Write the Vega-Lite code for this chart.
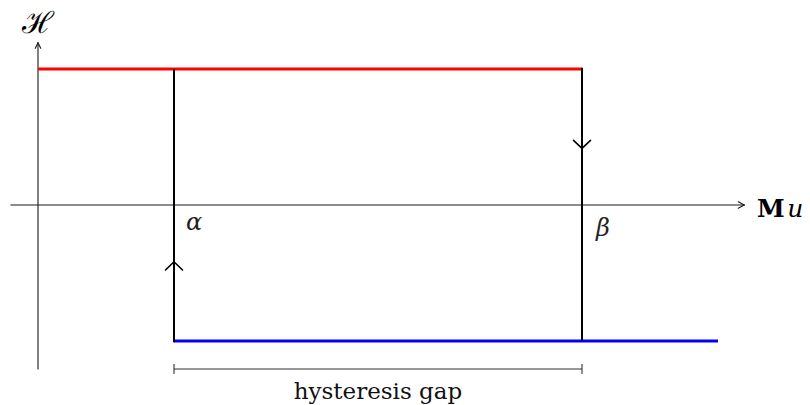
{
  "$schema": "https://vega.github.io/schema/vega-lite/v6.json",
  "width": 810,
  "height": 405,
  "autosize": {"type": "fit", "contains": "padding"},
  "padding": 0,
  "background": "white",
  "config": {"view": {"stroke": null}},
  "encoding": {
    "x": {"field": "x", "type": "quantitative", "scale": {"domain": [-0.2794, 5.6765], "nice": false, "zero": false}, "axis": null},
    "y": {"field": "y", "type": "quantitative", "scale": {"domain": [-1.4706, 1.5074], "nice": false, "zero": false}, "axis": null}
  },
  "layer": [
    {
      "data": {"values": [
        {"part": "x axis", "x": -0.2, "y": 0, "x2": 5.193, "y2": 0},
        {"part": "x arrow", "x": 5.149, "y": 0.024, "x2": 5.193, "y2": 0},
        {"part": "x arrow", "x": 5.149, "y": -0.024, "x2": 5.193, "y2": 0},
        {"part": "y axis", "x": 0, "y": -1.206, "x2": 0, "y2": 1.193},
        {"part": "y arrow", "x": -0.02, "y": 1.152, "x2": 0, "y2": 1.193},
        {"part": "y arrow", "x": 0.02, "y": 1.152, "x2": 0, "y2": 1.193}
      ]},
      "mark": {"type": "rule", "color": "#1a1a1a", "strokeWidth": 1.1, "strokeCap": "round"},
      "encoding": {"x2": {"field": "x2"}, "y2": {"field": "y2"}}
    },
    {
      "data": {"values": [
        {"part": "red", "x": 0, "y": 1, "x2": 4, "y2": 1}
      ]},
      "mark": {"type": "rule", "color": "#ff0000", "strokeWidth": 3},
      "encoding": {"x2": {"field": "x2"}, "y2": {"field": "y2"}}
    },
    {
      "data": {"values": [
        {"part": "blue", "x": 1, "y": -1, "x2": 5, "y2": -1}
      ]},
      "mark": {"type": "rule", "color": "#0000ff", "strokeWidth": 3},
      "encoding": {"x2": {"field": "x2"}, "y2": {"field": "y2"}}
    },
    {
      "data": {"values": [
        {"part": "alpha jump", "x": 1, "y": -1.01, "x2": 1, "y2": 1},
        {"part": "beta jump", "x": 4, "y": -1, "x2": 4, "y2": 1.01}
      ]},
      "mark": {"type": "rule", "color": "#000000", "strokeWidth": 2},
      "encoding": {"x2": {"field": "x2"}, "y2": {"field": "y2"}}
    },
    {
      "data": {"values": [
        {"part": "up arrow", "x": 0.9375, "y": -0.478, "x2": 1, "y2": -0.417},
        {"part": "up arrow", "x": 1.0625, "y": -0.478, "x2": 1, "y2": -0.417},
        {"part": "down arrow", "x": 3.9375, "y": 0.475, "x2": 4, "y2": 0.417},
        {"part": "down arrow", "x": 4.0625, "y": 0.475, "x2": 4, "y2": 0.417}
      ]},
      "mark": {"type": "rule", "color": "#000000", "strokeWidth": 1.6, "strokeCap": "round"},
      "encoding": {"x2": {"field": "x2"}, "y2": {"field": "y2"}}
    },
    {
      "data": {"values": [
        {"part": "gap", "x": 1, "y": -1.206, "x2": 4, "y2": -1.206},
        {"part": "gap tick", "x": 1, "y": -1.243, "x2": 1, "y2": -1.169},
        {"part": "gap tick", "x": 4, "y": -1.243, "x2": 4, "y2": -1.169}
      ]},
      "mark": {"type": "rule", "color": "#333333", "strokeWidth": 1.1},
      "encoding": {"x2": {"field": "x2"}, "y2": {"field": "y2"}}
    },
    {
      "data": {"values": [
        {"label": "hysteresis gap", "x": 2.5, "y": -1.426}
      ]},
      "mark": {"type": "text", "font": "DejaVu Serif", "fontSize": 23, "color": "#111111", "baseline": "alphabetic", "align": "center"},
      "encoding": {"text": {"field": "label"}}
    },
    {
      "data": {"values": [
        {"label": "α", "x": 1.147, "y": -0.184},
        {"label": "β", "x": 4.154, "y": -0.225}
      ]},
      "mark": {"type": "text", "font": "DejaVu Serif", "fontStyle": "italic", "fontSize": 24, "color": "#222222", "baseline": "alphabetic", "align": "center"},
      "encoding": {"text": {"field": "label"}}
    },
    {
      "data": {"values": [
        {"label": "ℋ", "x": 0, "y": 1.33}
      ]},
      "mark": {"type": "text", "font": "DejaVu Serif", "fontSize": 30, "color": "#000000", "baseline": "middle", "align": "center"},
      "encoding": {"text": {"field": "label"}}
    },
    {
      "data": {"values": [
        {"label": "M", "x": 5.287, "y": -0.086}
      ]},
      "mark": {"type": "text", "font": "DejaVu Serif", "fontWeight": "bold", "fontSize": 25, "color": "#000000", "baseline": "alphabetic", "align": "left"},
      "encoding": {"text": {"field": "label"}}
    },
    {
      "data": {"values": [
        {"label": "u", "x": 5.51, "y": -0.086}
      ]},
      "mark": {"type": "text", "font": "DejaVu Serif", "fontStyle": "italic", "fontSize": 25, "color": "#000000", "baseline": "alphabetic", "align": "left"},
      "encoding": {"text": {"field": "label"}}
    }
  ]
}
